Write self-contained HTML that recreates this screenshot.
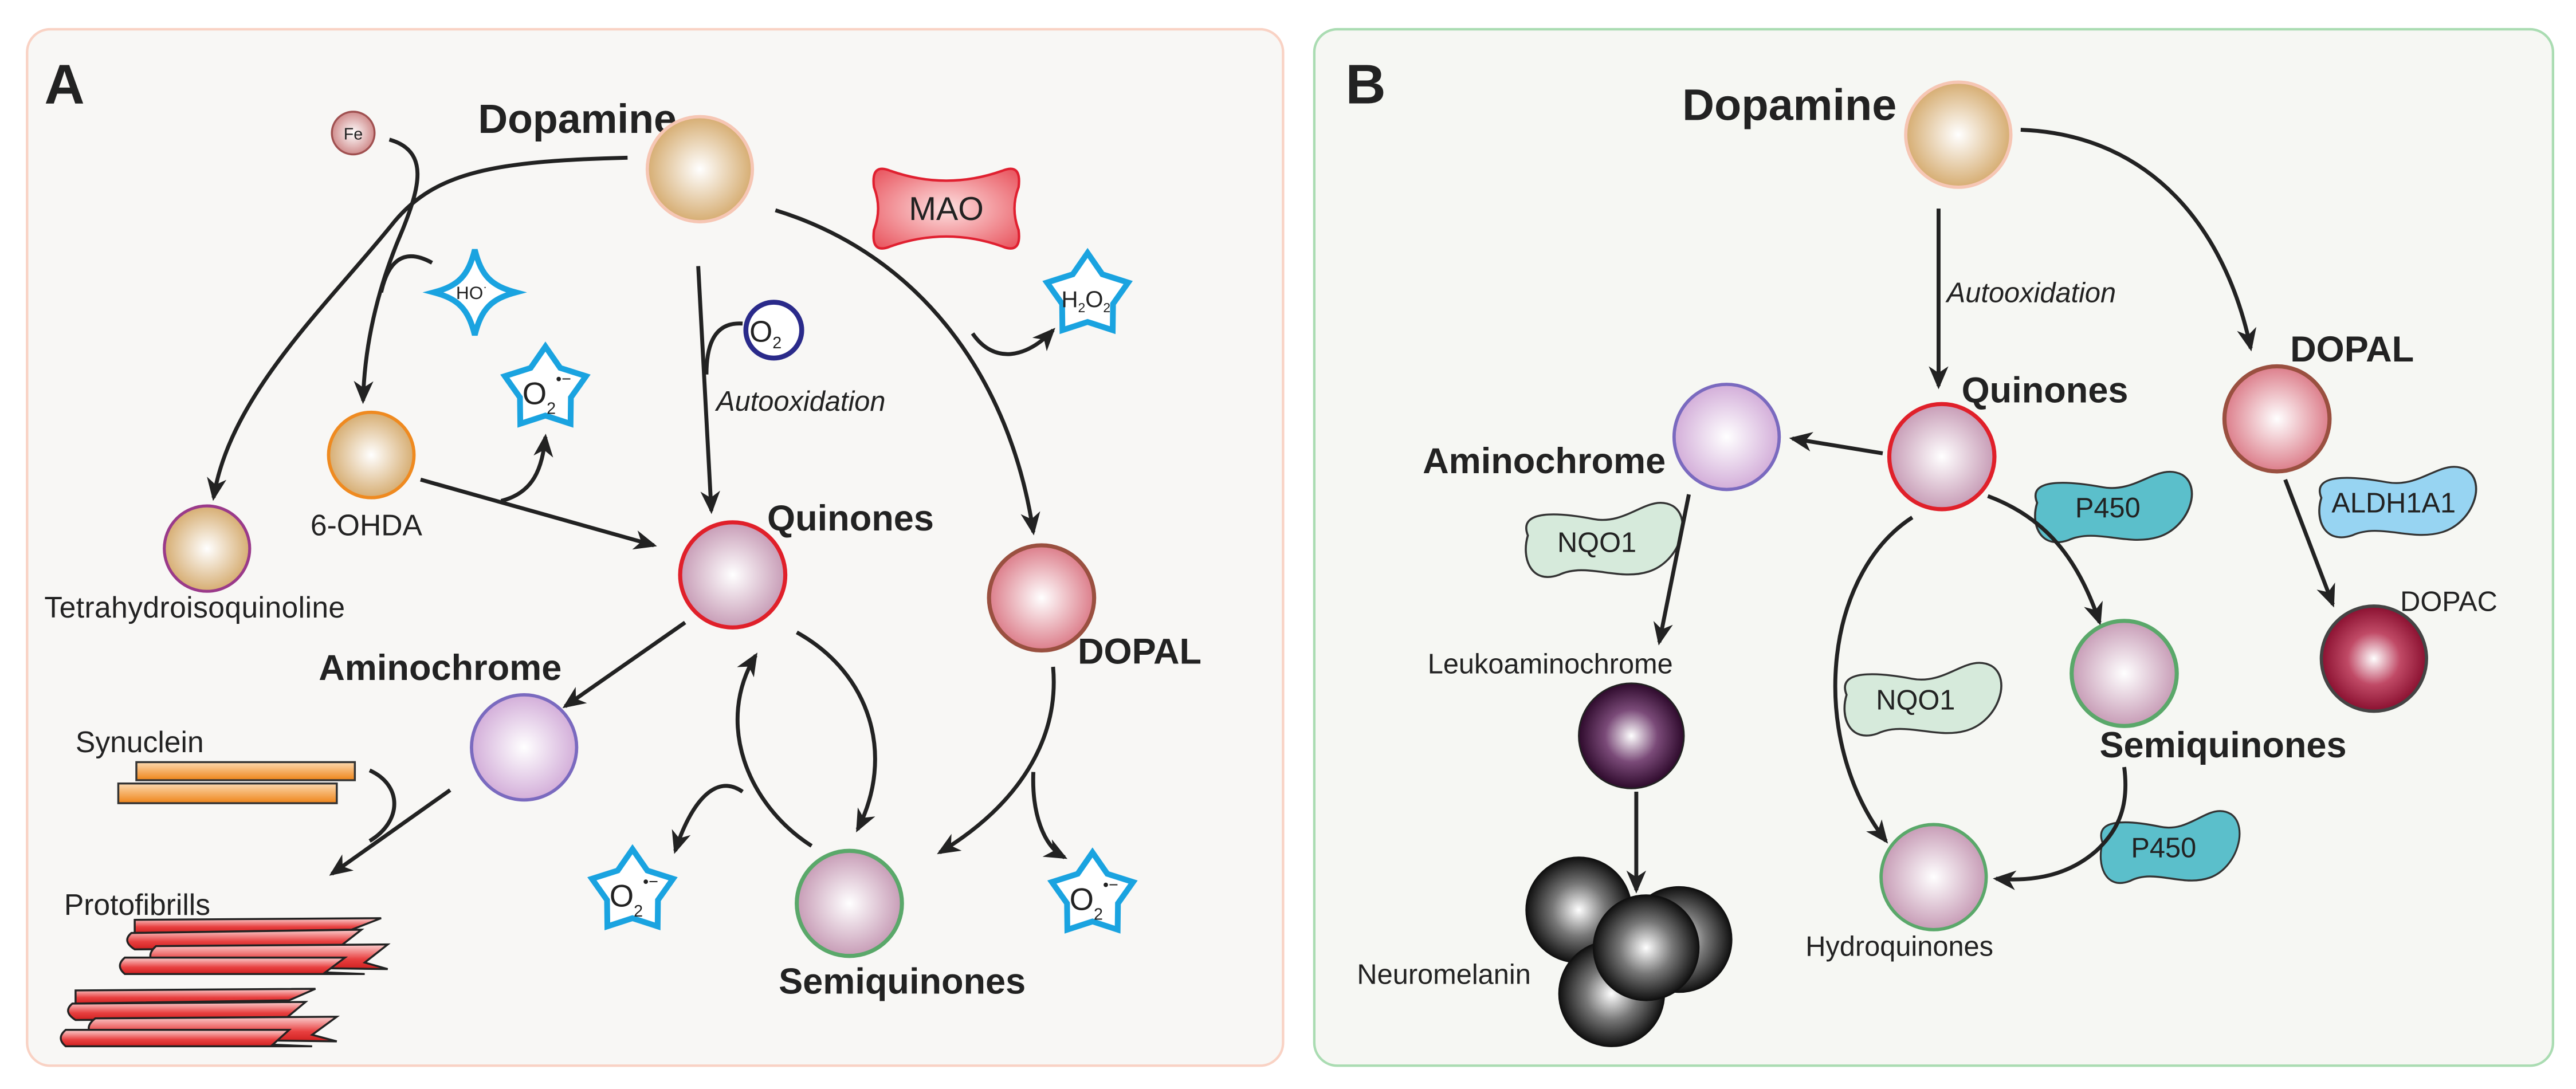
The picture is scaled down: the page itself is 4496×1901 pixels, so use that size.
<!DOCTYPE html>
<html><head><meta charset="utf-8"><style>
html,body{margin:0;padding:0;background:#fff;}
svg{display:block;}
text{font-family:"Liberation Sans",sans-serif;fill:#222;}
.b{font-weight:bold;}
</style></head><body>
<svg width="4496" height="1901" viewBox="0 0 1568 663" preserveAspectRatio="none" xmlns="http://www.w3.org/2000/svg">
<defs>
<marker id="ah" markerWidth="14" markerHeight="12" refX="12" refY="6" orient="auto" markerUnits="userSpaceOnUse">
<path d="M0,0 L14,6 L0,12 L4,6 Z" fill="#222"/></marker>
<radialGradient id="gTan"><stop offset="0" stop-color="#fff"/><stop offset="1" stop-color="#d6ad72"/></radialGradient>
<radialGradient id="gQ"><stop offset="0" stop-color="#fff"/><stop offset="1" stop-color="#c79cb6"/></radialGradient>
<radialGradient id="gAm"><stop offset="0" stop-color="#fff"/><stop offset="1" stop-color="#d3aed9"/></radialGradient>
<radialGradient id="gDp"><stop offset="0" stop-color="#fff"/><stop offset="1" stop-color="#dc7d8a"/></radialGradient>
<radialGradient id="gDc"><stop offset="0" stop-color="#fff"/><stop offset="0.5" stop-color="#c04a66"/><stop offset="1" stop-color="#8a1030"/></radialGradient>
<radialGradient id="gLk"><stop offset="0" stop-color="#fff"/><stop offset="0.5" stop-color="#7a4a78"/><stop offset="1" stop-color="#2e0a2c"/></radialGradient>
<radialGradient id="gNm"><stop offset="0" stop-color="#fff"/><stop offset="0.5" stop-color="#777"/><stop offset="1" stop-color="#111"/></radialGradient>
<radialGradient id="gFe"><stop offset="0" stop-color="#fff"/><stop offset="1" stop-color="#d08c8c"/></radialGradient>
<radialGradient id="gMao" cx="0.5" cy="0.5" r="0.7"><stop offset="0" stop-color="#fde0e0"/><stop offset="1" stop-color="#e8505a"/></radialGradient>
<linearGradient id="gOr" x1="0" y1="0" x2="0" y2="1"><stop offset="0" stop-color="#fbd9b0"/><stop offset="1" stop-color="#ef8418"/></linearGradient>
<linearGradient id="gRd" x1="0" y1="0" x2="0" y2="1"><stop offset="0" stop-color="#fbd0d0"/><stop offset="0.6" stop-color="#e84040"/><stop offset="1" stop-color="#d02020"/></linearGradient>
<path id="star" d="M0,-26 L9,-13 L24.7,-8 L15.5,5 L15.3,21 L0,16 L-15.3,21 L-15.5,5 L-24.7,-8 L-9,-13 Z"/>
<path id="blob" d="M-40,-2 C-46,-18 -22,-16 -2,-12 C18,-8 30,-28 44,-20 C56,-12 48,14 30,20 C12,26 -6,14 -22,22 C-38,28 -44,12 -40,-2Z"/>
</defs>

<!-- Panel A -->
<rect x="16.5" y="17.8" width="764.5" height="631" rx="14" fill="#f8f7f5" stroke="#f9d2c4" stroke-width="1.5"/>
<text x="27" y="63" class="b" font-size="34">A</text>

<g fill="none" stroke="#222" stroke-width="2.4">
<path d="M237,85 C262,92 255,115 245,140 C232,170 222,205 221,244" marker-end="url(#ah)"/>
<path d="M263,160 C245,150 236,160 232,178"/>
<path d="M382,96 C300,98 265,105 240,135 C200,185 140,240 130,303" marker-end="url(#ah)"/>
<path d="M256,292 L398,332" marker-end="url(#ah)"/>
<path d="M305,305 C325,300 330,285 332,266" marker-end="url(#ah)"/>
<path d="M425,162 L433,311" marker-end="url(#ah)"/>
<path d="M452,197 C438,196 430,205 430,228"/>
<path d="M472,128 C560,155 615,230 629,324" marker-end="url(#ah)"/>
<path d="M592,203 C605,222 625,218 641,201" marker-end="url(#ah)"/>
<path d="M417,379 L344,430" marker-end="url(#ah)"/>
<path d="M225,469 C245,478 245,500 225,512"/>
<path d="M274,481 L202,532" marker-end="url(#ah)"/>
<path d="M485,385 C530,410 545,460 522,505" marker-end="url(#ah)"/>
<path d="M494,515 C455,490 435,440 460,399" marker-end="url(#ah)"/>
<path d="M452,482 C435,470 420,490 411,518" marker-end="url(#ah)"/>
<path d="M641,406 C645,450 620,490 572,519" marker-end="url(#ah)"/>
<path d="M629,470 C628,495 635,515 648,522" marker-end="url(#ah)"/>
</g>

<circle cx="215" cy="81" r="13" fill="url(#gFe)" stroke="#a05050" stroke-width="1.2"/>
<text x="215" y="85" font-size="10" text-anchor="middle">Fe</text>

<text x="291" y="81" class="b" font-size="25">Dopamine</text>
<circle cx="426" cy="103" r="32" fill="url(#gTan)" stroke="#f6c6b4" stroke-width="2"/>

<path d="M542,104 Q576,116 610,104 Q622,99 620,114 Q615,127 620,140 Q622,155 610,150 Q576,138 542,150 Q530,155 532,140 Q537,127 532,114 Q530,99 542,104Z" fill="url(#gMao)" stroke="#e02030" stroke-width="1.5"/>
<text x="576" y="134" font-size="20" text-anchor="middle">MAO</text>

<path transform="translate(289,178)" d="M0,-26 C4,-10 10,-4 25,0 C10,4 4,10 0,26 C-4,10 -10,4 -25,0 C-10,-4 -4,-10 0,-26Z" fill="#fff" stroke="#1aa3e0" stroke-width="3.5"/>
<text x="287" y="182" font-size="11" text-anchor="middle">HO<tspan font-size="7" dy="-5">·</tspan></text>

<circle cx="471" cy="201" r="17" fill="#fff" stroke="#2a2a8a" stroke-width="3"/>
<text x="466" y="208" font-size="18" text-anchor="middle">O<tspan font-size="10" dy="4">2</tspan></text>
<text x="436" y="250" font-size="17" font-style="italic" fill="#333">Autooxidation</text>

<g fill="#fff" stroke="#1aa3e0" stroke-width="3.5">
<use href="#star" x="662" y="180"/>
<use href="#star" x="332" y="237"/>
<use href="#star" x="385" y="543"/>
<use href="#star" x="665" y="545"/>
</g>
<text x="661" y="187" font-size="14" text-anchor="middle">H<tspan font-size="8" dy="3">2</tspan><tspan dy="-3">O</tspan><tspan font-size="8" dy="3">2</tspan></text>
<g font-size="19">
<text x="318" y="246">O<tspan font-size="10" dy="6">2</tspan><tspan font-size="10" dy="-18">•−</tspan></text>
<text x="371" y="552">O<tspan font-size="10" dy="6">2</tspan><tspan font-size="10" dy="-18">•−</tspan></text>
<text x="651" y="554">O<tspan font-size="10" dy="6">2</tspan><tspan font-size="10" dy="-18">•−</tspan></text>
</g>

<circle cx="226" cy="277" r="26" fill="url(#gTan)" stroke="#ef8a20" stroke-width="2"/>
<text x="189" y="326" font-size="18">6-OHDA</text>
<circle cx="126" cy="334" r="26" fill="url(#gTan)" stroke="#9a3a8a" stroke-width="1.8"/>
<text x="27" y="376" font-size="18" textLength="183">Tetrahydroisoquinoline</text>

<circle cx="446" cy="350" r="32" fill="url(#gQ)" stroke="#e0202a" stroke-width="2.5"/>
<text x="467" y="323" class="b" font-size="22">Quinones</text>
<circle cx="634" cy="364" r="32" fill="url(#gDp)" stroke="#9a5040" stroke-width="2.5"/>
<text x="656" y="404" class="b" font-size="22">DOPAL</text>
<circle cx="319" cy="455" r="32" fill="url(#gAm)" stroke="#7a6abf" stroke-width="2"/>
<text x="194" y="414" class="b" font-size="22">Aminochrome</text>
<circle cx="517" cy="550" r="32" fill="url(#gQ)" stroke="#5aa86a" stroke-width="2.5"/>
<text x="474" y="605" class="b" font-size="22">Semiquinones</text>

<text x="46" y="458" font-size="18">Synuclein</text>
<rect x="83" y="464" width="133" height="11" fill="url(#gOr)" stroke="#333" stroke-width="1.2"/>
<rect x="72" y="477" width="133" height="12" fill="url(#gOr)" stroke="#333" stroke-width="1.2"/>

<text x="39" y="557" font-size="18">Protofibrills</text>
<g fill="url(#gRd)" stroke="#222" stroke-width="1.2">
<path d="M82,560 L232,559 L214,566 L82,568 Z"/>
<path d="M80,568 L220,566 L206,577 L82,578 Q74,573 80,568Z"/>
<path d="M95,576 L236,575 L222,586 L236,590 L95,588 Q88,582 95,576Z"/>
<path d="M76,583 L210,583 L198,592 L222,593 L76,593 Q70,588 76,583Z"/>
<path d="M46,603 L192,602 L176,609 L46,611 Z"/>
<path d="M44,611 L186,610 L174,620 L46,621 Q38,616 44,611Z"/>
<path d="M58,620 L205,619 L190,630 L205,634 L58,632 Q50,626 58,620Z"/>
<path d="M40,627 L176,627 L166,636 L190,637 L40,637 Q34,632 40,627Z"/>
</g>

<!-- Panel B -->
<rect x="800" y="17.8" width="754" height="631" rx="14" fill="#f6f7f3" stroke="#aadcb2" stroke-width="1.5"/>
<text x="819" y="63" class="b" font-size="34">B</text>

<g fill="#d6eadb" stroke="#333" stroke-width="1.2">
<use href="#blob" transform="translate(972,328) scale(1.05,1)"/>
<use href="#blob" transform="translate(1166,425) scale(1.05,0.98)"/>
</g>
<g fill="#5bbfcb" stroke="#333" stroke-width="1.2">
<use href="#blob" transform="translate(1282,308) scale(1.05,0.95)"/>
<use href="#blob" transform="translate(1317,515) scale(0.93,0.97)"/>
</g>
<use href="#blob" transform="translate(1455,305) scale(1.05,0.95)" fill="#97d4f2" stroke="#333" stroke-width="1.2"/>
<text x="972" y="336" font-size="17" text-anchor="middle" fill="#333">NQO1</text>
<text x="1166" y="432" font-size="17" text-anchor="middle" fill="#333">NQO1</text>
<text x="1283" y="315" font-size="17" text-anchor="middle" fill="#222">P450</text>
<text x="1317" y="522" font-size="17" text-anchor="middle" fill="#222">P450</text>
<text x="1457" y="312" font-size="17" text-anchor="middle" fill="#222">ALDH1A1</text>

<g fill="none" stroke="#222" stroke-width="2.4">
<path d="M1180,127 L1180,235" marker-end="url(#ah)"/>
<path d="M1230,79 C1310,82 1355,140 1370,212" marker-end="url(#ah)"/>
<path d="M1146,276 L1091,267" marker-end="url(#ah)"/>
<path d="M1028,301 L1010,391" marker-end="url(#ah)"/>
<path d="M996,482 L996,542" marker-end="url(#ah)"/>
<path d="M1391,292 L1420,368" marker-end="url(#ah)"/>
<path d="M1210,302 C1245,315 1265,340 1278,379" marker-end="url(#ah)"/>
<path d="M1164,315 C1110,350 1100,450 1148,512" marker-end="url(#ah)"/>
<path d="M1293,467 C1296,490 1290,505 1276,518 C1260,532 1240,537 1215,535" marker-end="url(#ah)"/>
</g>
<text x="1185" y="184" font-size="17" font-style="italic" fill="#333">Autooxidation</text>

<text x="1024" y="73" class="b" font-size="27">Dopamine</text>
<circle cx="1192" cy="82" r="32" fill="url(#gTan)" stroke="#f6c6b4" stroke-width="2"/>
<circle cx="1182" cy="278" r="32" fill="url(#gQ)" stroke="#e0202a" stroke-width="2.5"/>
<text x="1194" y="245" class="b" font-size="22">Quinones</text>
<circle cx="1051" cy="266" r="32" fill="url(#gAm)" stroke="#7a6abf" stroke-width="2"/>
<text x="866" y="288" class="b" font-size="22">Aminochrome</text>
<circle cx="1386" cy="255" r="32" fill="url(#gDp)" stroke="#9a5040" stroke-width="2.5"/>
<text x="1394" y="220" class="b" font-size="22">DOPAL</text>
<circle cx="1445" cy="401" r="32" fill="url(#gDc)" stroke="#444" stroke-width="2"/>
<text x="1461" y="372" font-size="17">DOPAC</text>
<circle cx="1293" cy="410" r="32" fill="url(#gQ)" stroke="#5aa86a" stroke-width="2.5"/>
<text x="1278" y="461" class="b" font-size="22">Semiquinones</text>
<circle cx="1177" cy="534" r="32" fill="url(#gQ)" stroke="#5aa86a" stroke-width="2"/>
<text x="1099" y="582" font-size="17">Hydroquinones</text>
<text x="869" y="410" font-size="17">Leukoaminochrome</text>
<circle cx="993" cy="448" r="32" fill="url(#gLk)" stroke="#222" stroke-width="1"/>
<g fill="url(#gNm)" stroke="#111" stroke-width="1">
<circle cx="961" cy="554" r="32"/>
<circle cx="1022" cy="572" r="32"/>
<circle cx="981" cy="605" r="32"/>
<circle cx="1002" cy="577" r="32"/>
</g>
<text x="826" y="599" font-size="17">Neuromelanin</text>
</svg>
</body></html>
